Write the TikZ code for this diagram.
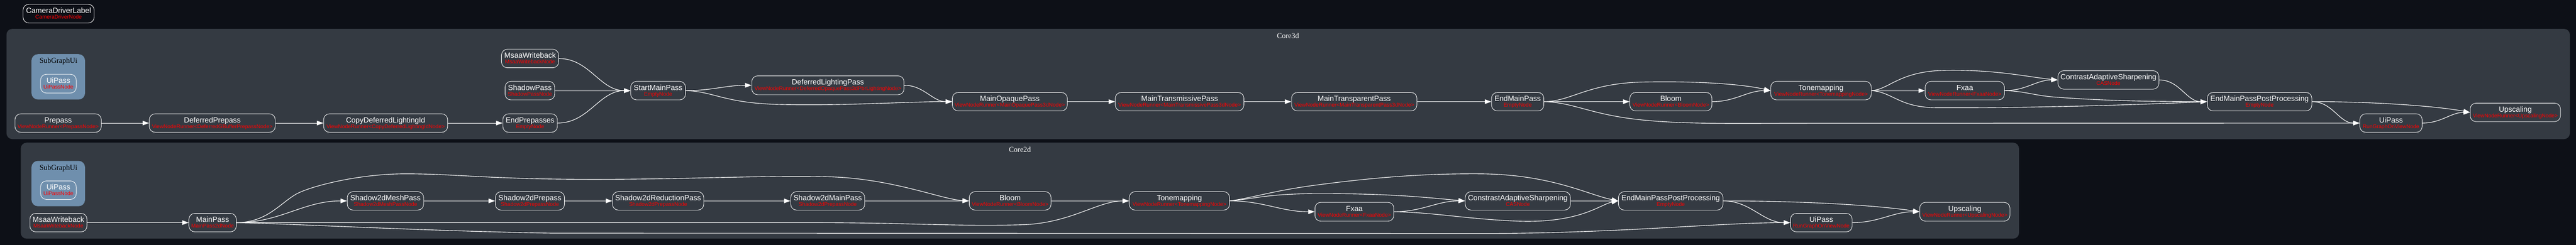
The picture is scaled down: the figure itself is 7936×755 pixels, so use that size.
\documentclass[tikz,border=0pt]{standalone}
\usepackage{fontspec}
\setmainfont{Liberation Serif}
\newfontfamily\nodefont{Liberation Sans}
\usetikzlibrary{arrows.meta}
\definecolor{bgc}{HTML}{0D1017}
\definecolor{clc}{HTML}{343A42}
\definecolor{subc}{HTML}{6F8FAD}
\definecolor{redc}{HTML}{FF0000}
\tikzset{
 pbox/.style={draw=white, line width=1.4pt, rounded corners=18pt, inner sep=0pt},
 wtxt/.style={anchor=base, inner sep=0pt, text=white, font=\nodefont\fontsize{23.1pt}{26pt}\selectfont},
 rtxt/.style={anchor=base, inner sep=0pt, text=redc, font=\nodefont\fontsize{16.6pt}{19pt}\selectfont},
 edge/.style={draw=white, line width=1.8pt, -{Triangle[length=20pt,width=14pt]}},
 clbox/.style={fill=clc, rounded corners=18pt},
 subbox/.style={fill=subc, rounded corners=20pt},
 cllabel/.style={anchor=base, inner sep=0pt, text=white, font=\fontsize{23pt}{26pt}\selectfont},
 sublabel/.style={anchor=base, inner sep=0pt, text=black, font=\fontsize{23pt}{26pt}\selectfont},
}
\newcommand\pnode[7]{%
 \node[pbox, minimum width={(#4-#2)*1pt}, minimum height={(#5-#3)*1pt}] (#1) at ({(#2+#4)/2},{(#3+#5)/2}) {};
 \node[wtxt] (#1w) at ([yshift=1.3pt]#1.center) {#6};
 \node[rtxt] (#1r) at ([yshift=-16.3pt]#1.center) {#7};
}
\begin{document}
\begin{tikzpicture}[x=1pt,y=-1pt]
\useasboundingbox (0,0) rectangle (7936,755);
\fill[bgc] (0,0) rectangle (7936,755);
% clusters
\path[clbox] (20,89) rectangle (7917,429);
\node[cllabel] (core3dlbl) at (3968,118) {Core3d};
\path[clbox] (64,440) rectangle (6220,736);
\node[cllabel] (core2dlbl) at (3142,469) {Core2d};
\path[subbox] (97,167) rectangle (262,307);
\node[sublabel] (sub3lbl) at (180,195) {SubGraphUi};
\path[subbox] (97,496) rectangle (262,636);
\node[sublabel] (sub2lbl) at (180,524) {SubGraphUi};
% top node
\pnode{cdl}{71}{13}{290}{71}{CameraDriverLabel}{CameraDriverNode}
% Core3d nodes
\pnode{uithree}{125}{229}{235}{287}{UiPass}{UiPassNode}
\pnode{prepass}{46}{351}{312}{408}{Prepass}{ViewNodeRunner<PrepassNode>}
\pnode{defprepass}{460}{351}{848}{408}{DeferredPrepass}{ViewNodeRunner<DeferredGBufferPrepassNode>}
\pnode{copydli}{997}{351}{1379}{408}{CopyDeferredLightingId}{ViewNodeRunner<CopyDeferredLightingIdNode>}
\pnode{msaathree}{1545}{152}{1721}{209}{MsaaWriteback}{MsaaWritebackNode}
\pnode{shadow}{1556}{251}{1709}{308}{ShadowPass}{ShadowPassNode}
\pnode{endpre}{1549}{351}{1717}{408}{EndPrepasses}{EmptyNode}
\pnode{startmain}{1943}{251}{2112}{308}{StartMainPass}{EmptyNode}
\pnode{deflight}{2316}{234}{2785}{292}{DeferredLightingPass}{ViewNodeRunner<DeferredOpaquePass3dPbrLightingNode>}
\pnode{opaque}{2934}{285}{3288}{342}{MainOpaquePass}{ViewNodeRunner<MainOpaquePass3dNode>}
\pnode{transm}{3436}{285}{3832}{342}{MainTransmissivePass}{ViewNodeRunner<MainTransmissivePass3dNode>}
\pnode{transp}{3979}{285}{4365}{342}{MainTransparentPass}{ViewNodeRunner<MainTransparentPass3dNode>}
\pnode{endmain}{4595}{285}{4756}{342}{EndMainPass}{EmptyNode}
\pnode{bloomthree}{5021}{285}{5274}{342}{Bloom}{ViewNodeRunner<BloomNode>}
\pnode{tonethree}{5455}{251}{5765}{308}{Tonemapping}{ViewNodeRunner<TonemappingNode>}
\pnode{fxaathree}{5931}{251}{6175}{308}{Fxaa}{ViewNodeRunner<FxaaNode>}
\pnode{casthree}{6340}{218}{6651}{275}{ContrastAdaptiveSharpening}{CASNode}
\pnode{empppthree}{6800}{285}{7122}{342}{EndMainPassPostProcessing}{EmptyNode}
\pnode{uipthree}{7270}{351}{7462}{408}{UiPass}{RunGraphOnViewNode}
\pnode{upsthree}{7610}{318}{7888}{375}{Upscaling}{ViewNodeRunner<UpscalingNode>}
% Core2d nodes
\pnode{uitwo}{125}{558}{235}{615}{UiPass}{UiPassNode}
\pnode{msaatwo}{92}{658}{268}{715}{MsaaWriteback}{MsaaWritebackNode}
\pnode{mainpass}{582}{658}{728}{715}{MainPass}{MainPass2dNode}
\pnode{smesh}{1070}{591}{1305}{648}{Shadow2dMeshPass}{Shadow2dMeshPassNode}
\pnode{spre}{1526}{591}{1739}{648}{Shadow2dPrepass}{Shadow2dPrepassNode}
\pnode{sred}{1887}{591}{2168}{648}{Shadow2dReductionPass}{Shadow2dPrepassNode}
\pnode{smain}{2436}{591}{2664}{648}{Shadow2dMainPass}{Shadow2dPrepassNode}
\pnode{bloomtwo}{2986}{591}{3238}{648}{Bloom}{ViewNodeRunner<BloomNode>}
\pnode{tonetwo}{3479}{591}{3788}{648}{Tonemapping}{ViewNodeRunner<TonemappingNode>}
\pnode{fxaatwo}{4051}{624}{4294}{682}{Fxaa}{ViewNodeRunner<FxaaNode>}
\pnode{castwo}{4514}{591}{4838}{648}{ConstrastAdaptiveSharpening}{CASNode}
\pnode{emppptwo}{4986}{591}{5308}{648}{EndMainPassPostProcessing}{EmptyNode}
\pnode{uiptwo}{5516}{658}{5706}{715}{UiPass}{RunGraphOnViewNode}
\pnode{upstwo}{5914}{624}{6192}{682}{Upscaling}{ViewNodeRunner<UpscalingNode>}
% Core3d edges
\draw[edge] (prepass.east) -- (defprepass.west);
\draw[edge] (defprepass.east) -- (copydli.west);
\draw[edge] (copydli.east) -- (endpre.west);
\draw[edge] (msaathree.east) to[out=0,in=180] (startmain.west);
\draw[edge] (shadow.east) -- (startmain.west);
\draw[edge] (endpre.east) to[out=0,in=180] (startmain.west);
\draw[edge] (startmain.east) to[out=0,in=180] (deflight.west);
\draw[edge] (startmain.east) .. controls (2200,282) and (2230,318) .. (2400,322) .. controls (2600,327) and (2800,313) .. (opaque.west);
\draw[edge] (deflight.east) to[out=0,in=180] (opaque.west);
\draw[edge] (opaque.east) -- (transm.west);
\draw[edge] (transm.east) -- (transp.west);
\draw[edge] (transp.east) -- (endmain.west);
\draw[edge] (endmain.east) .. controls (4840,313) and (4890,257) .. (5060,253) .. controls (5250,249) and (5380,262) .. (tonethree.west);
\draw[edge] (endmain.east) -- (bloomthree.west);
\draw[edge] (bloomthree.east) to[out=0,in=180] (tonethree.west);
\draw[edge] (endmain.east) .. controls (4850,316) and (4900,354) .. (5060,370) .. controls (5200,384) and (5350,380) .. (5600,380) -- (uipthree.west);
\draw[edge] (tonethree.east) -- (fxaathree.west);
\draw[edge] (tonethree.east) .. controls (5820,276) and (5850,220) .. (5990,217) .. controls (6150,214) and (6250,238) .. (casthree.west);
\draw[edge] (tonethree.east) .. controls (5830,284) and (5850,330) .. (5960,332) .. controls (6300,334) and (6650,320) .. (empppthree.west);
\draw[edge] (fxaathree.east) to[out=0,in=180] (casthree.west);
\draw[edge] (fxaathree.east) .. controls (6240,281) and (6270,296) .. (6340,300) .. controls (6500,312) and (6650,313) .. (empppthree.west);
\draw[edge] (casthree.east) to[out=0,in=180] (empppthree.west);
\draw[edge] (empppthree.east) to[out=0,in=180] (uipthree.west);
\draw[edge] (empppthree.east) .. controls (7300,313) and (7500,326) .. (upsthree.west);
\draw[edge] (uipthree.east) to[out=0,in=180] (upsthree.west);
% Core2d edges
\draw[edge] (msaatwo.east) -- (mainpass.west);
\draw[edge] (mainpass.east) to[out=0,in=180] (smesh.west);
\draw[edge] (mainpass.east) .. controls (820,686) and (860,630) .. (910,600) .. controls (950,576) and (1100,536) .. (1250,536) .. controls (1400,536) and (1500,552) .. (1800,553) .. controls (2100,554) and (2350,540) .. (2550,545) .. controls (2750,550) and (2900,615) .. (bloomtwo.west);
\draw[edge] (mainpass.east) -- (2500,686.5) .. controls (2800,686.5) and (2950,699) .. (3150,693) .. controls (3300,688) and (3380,620) .. (tonetwo.west);
\draw[edge] (mainpass.east) .. controls (900,690) and (1300,712) .. (1700,719) -- (4600,720) .. controls (5000,718) and (5300,686.5) .. (uiptwo.west);
\draw[edge] (smesh.east) -- (spre.west);
\draw[edge] (spre.east) -- (sred.west);
\draw[edge] (sred.east) -- (smain.west);
\draw[edge] (smain.east) -- (bloomtwo.west);
\draw[edge] (bloomtwo.east) -- (tonetwo.west);
\draw[edge] (tonetwo.east) to[out=0,in=180] (fxaatwo.west);
\draw[edge] (tonetwo.east) .. controls (3860,614) and (3900,598) .. (4050,597) .. controls (4300,596) and (4420,612) .. (castwo.west);
\draw[edge] (tonetwo.east) .. controls (3860,610) and (3920,588) .. (4060,570) .. controls (4250,545) and (4400,535) .. (4560,536) .. controls (4780,538) and (4890,600) .. (emppptwo.west);
\draw[edge] (fxaatwo.east) to[out=0,in=180] (castwo.west);
\draw[edge] (fxaatwo.east) .. controls (4420,655) and (4520,676) .. (4680,682) .. controls (4870,688) and (4930,630) .. (emppptwo.west);
\draw[edge] (castwo.east) -- (emppptwo.west);
\draw[edge] (emppptwo.east) to[out=0,in=180] (uiptwo.west);
\draw[edge] (emppptwo.east) .. controls (5600,620) and (5800,636) .. (upstwo.west);
\draw[edge] (uiptwo.east) to[out=0,in=180] (upstwo.west);
\end{tikzpicture}
\end{document}
